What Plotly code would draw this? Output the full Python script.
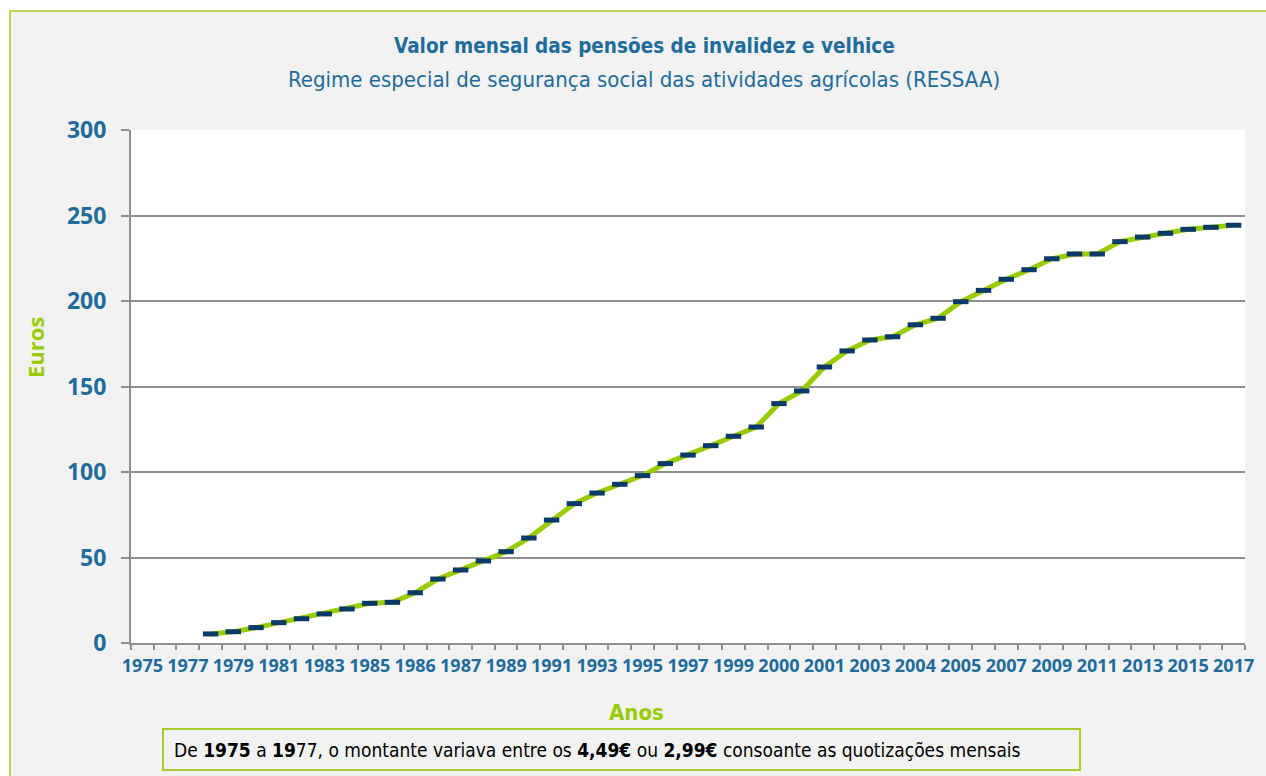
import plotly.graph_objects as go

# ---------------- data ----------------
anos = ["1975", "1976", "1977", "1978", "1979", "1980", "1981", "1982", "1983", "1984",
        "1985", "1985", "1986", "1986", "1987", "1988", "1989", "1990", "1991", "1992",
        "1993", "1994", "1995", "1996", "1997", "1998", "1999", "1999", "2000", "2000",
        "2001", "2002", "2003", "2003", "2004", "2004", "2005", "2006", "2007", "2008",
        "2009", "2010", "2011", "2012", "2013", "2014", "2015", "2016", "2017"]

pensao = [None, None, None,
          5.3, 6.6, 9.0, 11.9, 14.2, 17.0, 19.9, 23.2, 23.8, 29.4, 37.4, 42.7,
          48.0, 53.4, 61.4, 71.9, 81.5, 87.7, 92.8, 97.9, 104.9, 109.9, 115.4,
          120.9, 126.3, 140.0, 147.4, 161.4, 170.8, 177.2, 179.1, 186.1, 189.9,
          199.6, 206.2, 212.7, 218.3, 224.7, 227.5, 227.5, 234.7, 237.4, 239.6,
          241.9, 243.1, 244.3]

titulo = "Valor mensal das pensões de invalidez e velhice"
subtitulo = "Regime especial de segurança social das atividades agrícolas (RESSAA)"
nota = ("De <b>1975</b> a <b>19</b>77, o montante variava entre os <b>4,49€</b> ou "
        "<b>2,99€</b> consoante as quotizações mensais")

# ---------------- layout helpers ----------------
W, H = 1266, 776
L, R, T, B = 131, 1245, 130, 643
PW, PH = R - L, B - T


def px(x):
    return (x - L) / PW


def py(y):
    return (B - y) / PH


BLUE = "#1F6C9B"
GREEN = "#99CC00"
NAVY = "#0B3A6A"
GRID = "#8E8E8E"
NARROW = "DejaVu Sans Condensed, Liberation Sans Narrow, Liberation Sans"

idx = list(range(len(anos)))

fig = go.Figure()
fig.add_trace(go.Scatter(
    x=idx, y=pensao, mode="lines+markers",
    line=dict(color=GREEN, width=5),
    marker=dict(symbol="line-ew", size=11, color=NAVY,
                line=dict(color=NAVY, width=5)),
    connectgaps=False, showlegend=False, hoverinfo="x+y",
))

fig.update_layout(
    width=W, height=H,
    margin=dict(l=L, r=W - R, t=T, b=H - B),
    paper_bgcolor="#F2F2F2",
    plot_bgcolor="white",
    xaxis=dict(
        range=[-0.5, len(anos) - 0.5],
        tickmode="array",
        tickvals=idx[::2],
        ticktext=anos[::2],
        tickangle=0,
        ticks="",
        showgrid=False,
        zeroline=False,
        showline=True, linecolor=GRID, linewidth=2,
        tickfont=dict(family="Open Sans", size=18, color=BLUE, weight="bold"),
        ticklabelstandoff=5,
        minor=dict(tickmode="array",
                   tickvals=[i - 0.5 for i in range(len(anos) + 1)],
                   ticks="outside", ticklen=5, tickcolor=GRID, tickwidth=1.5,
                   showgrid=False),
        fixedrange=True,
    ),
    yaxis=dict(
        range=[0, 300], dtick=50, tick0=0,
        showgrid=True, gridcolor=GRID, gridwidth=1.5,
        zeroline=False,
        showline=True, linecolor=GRID, linewidth=2,
        ticks="outside", ticklen=8, tickcolor=GRID, tickwidth=1.5,
        tickfont=dict(family="Open Sans", size=23, color=BLUE, weight="bold"),
        ticklabelstandoff=10,
        fixedrange=True,
    ),
    annotations=[
        dict(text="<b>" + titulo + "</b>", xref="paper", yref="paper",
             x=px(644), y=py(46), xanchor="center", yanchor="middle", showarrow=False,
             font=dict(family=NARROW, size=20.5, color=BLUE)),
        dict(text=subtitulo, xref="paper", yref="paper",
             x=px(644), y=py(80), xanchor="center", yanchor="middle", showarrow=False,
             font=dict(family=NARROW, size=22, color=BLUE)),
        dict(text="<b>Euros</b>", xref="paper", yref="paper", textangle=-90,
             x=px(35), y=py(348), xanchor="center", yanchor="middle", showarrow=False,
             font=dict(family="Open Sans", size=22, color=GREEN)),
        dict(text="<b>Anos</b>", xref="paper", yref="paper",
             x=px(636), y=py(712), xanchor="center", yanchor="middle", showarrow=False,
             font=dict(family=NARROW, size=22, color=GREEN)),
        dict(text=nota, xref="paper", yref="paper",
             x=px(172), y=py(750), xanchor="left", yanchor="middle", showarrow=False,
             font=dict(family=NARROW, size=19, color="black")),
    ],
    shapes=[
        dict(type="rect", xref="paper", yref="paper", layer="above",
             x0=px(-5), x1=px(W + 5), y0=py(-5), y1=py(10), fillcolor="white",
             line=dict(width=0)),
        dict(type="rect", xref="paper", yref="paper", layer="above",
             x0=px(-5), x1=px(9), y0=py(-5), y1=py(H + 5), fillcolor="white",
             line=dict(width=0)),
        dict(type="rect", xref="paper", yref="paper", layer="above",
             x0=px(10), x1=px(W + 10), y0=py(11), y1=py(H + 10),
             line=dict(color="#A8CC2C", width=1.5)),
        dict(type="rect", xref="paper", yref="paper", layer="above",
             x0=px(163), x1=px(1080), y0=py(729), y1=py(770),
             line=dict(color="#A8CC2C", width=2)),
    ],
)

fig.write_html("out.html", config={"displayModeBar": False},
               post_script="document.body.style.margin='0';document.body.style.overflow='hidden';")
